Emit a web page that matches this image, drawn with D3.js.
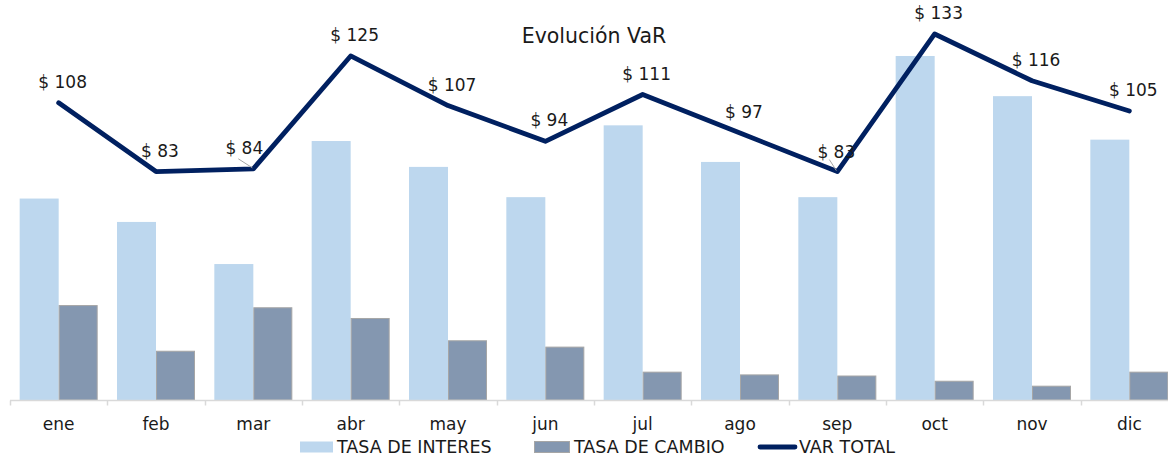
<!DOCTYPE html>
<html>
<head>
<meta charset="utf-8">
<script src="https://cdn.jsdelivr.net/npm/d3@7"></script>
<style>
  body { margin: 0; background: #fff; }
  svg { display: block; font-family: "DejaVu Sans", Verdana, sans-serif; }
</style>
</head>
<body>
<svg id="chart" width="1168" height="457"></svg>
<script>
var months = ["ene", "feb", "mar", "abr", "may", "jun", "jul", "ago", "sep", "oct", "nov", "dic"];
var tasaInteres = [73.2, 64.7, 49.4, 94.1, 84.7, 73.7, 99.8, 86.5, 73.7, 125.0, 110.4, 94.6];
var tasaCambio = [34.5, 17.9, 33.7, 29.8, 21.7, 19.4, 10.3, 9.3, 8.9, 7.0, 5.2, 10.3];
var varTotal = [108, 83, 84, 125, 107, 94, 111, 97, 83, 133, 116, 105];
var seriesNames = ["TASA DE INTERES", "TASA DE CAMBIO", "VAR TOTAL"];

var colInteres = "#bdd7ee";
var colCambio = "#8497b0";
var colTotal = "#002060";

var svg = d3.select("#chart");

var x = d3.scaleBand().domain(months).range([10, 1178]);
var xs = d3.scaleBand().domain([0, 1]).range([0, 78]);
var y = d3.scaleLinear().domain([0, 140]).range([400, 14.7]);

// bars
var g = svg.append("g");
g.selectAll("rect.int")
  .data(tasaInteres)
  .enter()
  .append("rect")
  .attr("class", "int")
  .attr("x", function(d, i) { return x(months[i]) + (x.bandwidth() - 78) / 2 + xs(0); })
  .attr("y", function(d) { return y(d); })
  .attr("width", xs.bandwidth())
  .attr("height", function(d) { return y(0) - y(d); })
  .attr("fill", colInteres);

g.selectAll("rect.cam")
  .data(tasaCambio)
  .enter()
  .append("rect")
  .attr("class", "cam")
  .attr("x", function(d, i) { return x(months[i]) + (x.bandwidth() - 78) / 2 + xs(1) + 0.5; })
  .attr("y", function(d) { return y(d) + 0.5; })
  .attr("width", xs.bandwidth() - 1)
  .attr("height", function(d) { return y(0) - y(d) - 0.5; })
  .attr("fill", colCambio)
  .attr("stroke", "#a6a6a6")
  .attr("stroke-width", 1);

// axis
var axis = svg.append("g").attr("transform", "translate(0,400.5)");
axis.append("line")
  .attr("x1", 10).attr("x2", 1178)
  .attr("stroke", "#d9d9d9").attr("stroke-width", 1.5);
axis.selectAll("line.tick")
  .data(months)
  .enter()
  .append("line")
  .attr("class", "tick")
  .attr("x1", function(d) { return Math.round(x(d)) + 0.5; })
  .attr("x2", function(d) { return Math.round(x(d)) + 0.5; })
  .attr("y1", 0).attr("y2", 5)
  .attr("stroke", "#d9d9d9").attr("stroke-width", 1.5);
axis.selectAll("text")
  .data(months)
  .enter()
  .append("text")
  .attr("x", function(d) { return x(d) + x.bandwidth() / 2; })
  .attr("y", 29.5)
  .attr("text-anchor", "middle")
  .attr("font-size", "17px")
  .attr("fill", "#1a1a1a")
  .text(function(d) { return d; });

// line
var line = d3.line()
  .x(function(d, i) { return x(months[i]) + x.bandwidth() / 2; })
  .y(function(d) { return y(d); });

svg.append("path")
  .datum(varTotal)
  .attr("d", line)
  .attr("fill", "none")
  .attr("stroke", colTotal)
  .attr("stroke-width", 4.8)
  .attr("stroke-linejoin", "round")
  .attr("stroke-linecap", "round");

// labels (mar and sep were moved by hand, with leader lines)
var nudge = { 2: [-13, 0], 8: [-5, 1] };
svg.selectAll("line.leader")
  .data([2, 8])
  .enter()
  .append("line")
  .attr("x1", function(i) { return x(months[i]) + x.bandwidth() / 2 + (i === 2 ? -15 : -8); })
  .attr("y1", function(i) { return y(varTotal[i]) - (i === 2 ? 10 : 12); })
  .attr("x2", function(i) { return x(months[i]) + x.bandwidth() / 2 - 1; })
  .attr("y2", function(i) { return y(varTotal[i]) - 1; })
  .attr("stroke", "#a6a6a6")
  .attr("stroke-width", 1);

svg.selectAll("text.lbl")
  .data(varTotal)
  .enter()
  .append("text")
  .attr("class", "lbl")
  .attr("x", function(d, i) { return x(months[i]) + x.bandwidth() / 2 + 4 + (nudge[i] ? nudge[i][0] : 0); })
  .attr("y", function(d, i) { return y(d) - 15 + (nudge[i] ? nudge[i][1] : 0); })
  .attr("text-anchor", "middle")
  .attr("font-size", "17px")
  .attr("fill", "#1a1a1a")
  .text(function(d) { return "$ " + d; });

// title
svg.append("text")
  .attr("x", 594)
  .attr("y", 43)
  .attr("text-anchor", "middle")
  .attr("font-size", "20.5px")
  .attr("fill", "#1a1a1a")
  .text("Evolución VaR");

// legend
var legend = svg.append("g");
legend.append("rect").attr("x", 300).attr("y", 441.5).attr("width", 33).attr("height", 11).attr("fill", colInteres);
legend.append("text").attr("x", 337).attr("y", 453).attr("font-size", "17.5px").attr("fill", "#1a1a1a").text(seriesNames[0]);
legend.append("rect").attr("x", 534.5).attr("y", 441.5).attr("width", 35).attr("height", 11)
  .attr("fill", colCambio).attr("stroke", "#a6a6a6").attr("stroke-width", 1);
legend.append("text").attr("x", 574).attr("y", 453).attr("font-size", "17.5px").attr("fill", "#1a1a1a").text(seriesNames[1]);
legend.append("line").attr("x1", 760).attr("x2", 795).attr("y1", 447).attr("y2", 447)
  .attr("stroke", colTotal).attr("stroke-width", 4.8).attr("stroke-linecap", "round");
legend.append("text").attr("x", 799).attr("y", 453).attr("font-size", "17.5px").attr("fill", "#1a1a1a").text(seriesNames[2]);
</script>
</body>
</html>
